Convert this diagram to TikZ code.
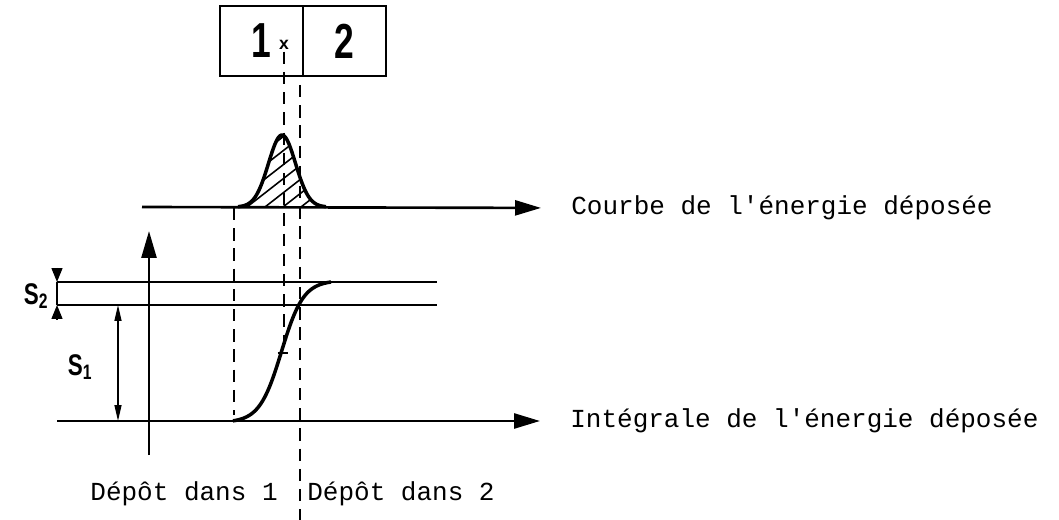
\documentclass[tikz,border=0pt]{standalone}
\usepackage{fontspec}
\setmonofont{Liberation Mono}
\newfontfamily\labelfont{Liberation Sans}
\usetikzlibrary{positioning, arrows.meta}

\begin{document}
\begin{tikzpicture}[
      x=0.02cm, y=-0.02cm,
      cell/.style={draw, rectangle, line width=1.5pt, outer sep=0pt, minimum width=1.66cm, minimum height=1.4cm, font=\labelfont\bfseries\fontsize{28}{30}\selectfont},
      caption/.style={inner sep=0pt, font=\ttfamily\fontsize{14.8}{17}\selectfont},
      sig/.style={font=\labelfont\bfseries\fontsize{17}{19}\selectfont},
      axis/.style={line width=1.5pt, -{Triangle[length=0.52cm, width=0.3cm]}},
      level/.style={line width=1.4pt},
      curve/.style={line width=2pt},
      guide/.style={line width=0.8pt, dash pattern=on 7pt off 4.5pt},
      dim/.style={line width=0.8pt}
    ]
    \useasboundingbox (0,0) rectangle (1059,520);

    % detector cells
    \node[cell] (cell1) at (261.5,41) {\scalebox{0.72}[1]{1}};
    \node[cell] (cell2) [right=0pt of cell1] {\scalebox{0.72}[1]{2}};
    \node[font=\labelfont\bfseries\fontsize{10}{11}\selectfont, inner sep=1pt] (hit) at (284,45) {x};

    % captions
    \node[caption, anchor=west] (courbe) at (571,208) {Courbe de l'énergie déposée};
    \node[caption, anchor=west] (integrale) at (570,421) {Intégrale de l'énergie déposée};
    \node[caption, anchor=east] (dep1) at (278,494) {Dépôt dans 1};
    \node[caption, anchor=west] (dep2) at (307,494) {Dépôt dans 2};
    \node[sig] (s2) at (36,296) {\scalebox{0.75}[1]{S\textsubscript{2}}};
    \node[sig] (s1) at (80,367) {\scalebox{0.75}[1]{S\textsubscript{1}}};

    \coordinate (topstart) at (142,207);
    \coordinate (botstart) at (57,421);
    \coordinate (vbase) at (149,455);
    \coordinate (vtip) at (149,231);
    \coordinate (centre) at (283,353);

    % axes
    \draw[axis, shorten >=0.6cm] (topstart) -- (courbe.west);
    \draw[axis, shorten >=0.6cm] (botstart) -- (integrale.west);
    \draw[line width=1.5pt, -{Triangle[length=0.54cm, width=0.3cm]}] (vbase) -- (vtip);

    % levels
    \draw[level] (57,282) -- (437,282);
    \draw[level] (57,305) -- (437,305);

    % S2 and S1
    \draw[dim, -{Triangle[length=0.28cm, width=0.22cm]}] (57,268) -- (57,282);
    \draw[dim] (57,282) -- (57,305);
    \draw[dim, -{Triangle[length=0.28cm, width=0.22cm]}] (57,319) -- (57,305);
    \draw[dim, {Triangle[length=0.32cm, width=0.14cm]}-{Triangle[length=0.32cm, width=0.14cm]}] (118,305) -- (118,421);

    % deposited energy
    \begin{scope}
      \clip plot[domain=236:328, samples=60] (\x, {207-72*exp(-((\x-282)/13.5)*((\x-282)/13.5)/2)}) -- cycle;
      \foreach \h in {175,193,...,320}
        \draw[line width=0.9pt] (\h,207) -- ++(100,-78);
    \end{scope}
    \draw[curve] plot[domain=238:326, samples=60] (\x, {207-72*exp(-((\x-282)/13.5)*((\x-282)/13.5)/2)});

    % integral
    \draw[curve] plot[domain=233:331, samples=60] (\x, {351.5-69.5*tanh((\x-281.5)/22)/tanh(49.5/22)});
    \draw[line width=1pt] ([xshift=-3pt]centre) -- ([xshift=3pt]centre);

    % guides
    \draw[guide] (hit.south) -- (hit.south |- centre);
    \draw[guide] (300,85) -- (300,520);
    \draw[guide] (234,208) -- (234,415);
  \end{tikzpicture}
\end{document}
